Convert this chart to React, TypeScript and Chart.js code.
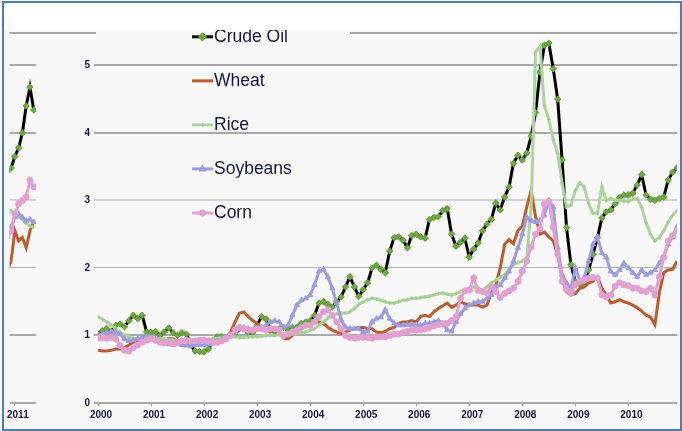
import { useEffect, useRef } from "react";
import { Chart, registerables } from "chart.js";

Chart.register(...registerables);

// ---- data (monthly, index 0 = Jan 2000) ----
const startYear = 2000;
const seriesNames = ["Crude Oil", "Wheat", "Rice", "Soybeans", "Corn"];

const crudeOil = [
  1.02, 1.07, 1.1, 1.06, 1.15, 1.17, 1.13, 1.22, 1.3, 1.25, 1.3, 1.05,
  1.05, 1.06, 1.0, 1.05, 1.11, 1.04, 1.0, 1.04, 1.02, 0.86, 0.77, 0.76,
  0.76, 0.8, 0.92, 0.98, 0.98, 0.96, 1.0, 1.02, 1.1, 1.1, 1.04, 1.04,
  1.15, 1.28, 1.24, 1.1, 1.05, 1.1, 1.12, 1.08, 1.12, 1.12, 1.18, 1.2,
  1.22, 1.3, 1.48, 1.5, 1.46, 1.42, 1.5, 1.57, 1.72, 1.87, 1.72, 1.58,
  1.68, 1.78, 2.0, 2.04, 1.98, 1.93, 2.25, 2.45, 2.46, 2.41, 2.3, 2.48,
  2.5, 2.46, 2.44, 2.72, 2.75, 2.76, 2.85, 2.88, 2.5, 2.32, 2.38, 2.44,
  2.16, 2.28, 2.37, 2.55, 2.65, 2.72, 2.96, 2.86, 3.05, 3.2, 3.55, 3.67,
  3.6, 3.7, 3.95, 4.3, 4.9, 5.3, 5.33, 4.95, 4.5, 3.6, 2.6, 2.05,
  1.8, 1.76, 1.75, 1.97, 2.2, 2.45, 2.74, 2.83, 2.86, 2.95, 3.04, 3.08,
  3.08, 3.11, 3.23, 3.38, 3.08, 3.02, 3.0, 3.03, 3.05, 3.3, 3.42, 3.48,
  3.65, 3.78, 4.0, 4.4, 4.68, 4.34,
];

const wheat = [
  0.78, 0.77, 0.77, 0.78, 0.8, 0.8, 0.82, 0.86, 0.9, 0.92, 0.95, 0.96,
  0.95, 0.94, 0.92, 0.93, 0.96, 0.95, 0.92, 0.9, 0.92, 0.92, 0.93, 0.92,
  0.92, 0.9, 0.9, 0.9, 0.92, 0.95, 1.05, 1.2, 1.33, 1.35, 1.28, 1.22,
  1.18, 1.1, 1.08, 1.05, 1.08, 1.05, 0.96, 0.95, 1.0, 1.08, 1.12, 1.15,
  1.18, 1.2, 1.2, 1.18, 1.12, 1.08, 1.05, 1.03, 1.05, 1.08, 1.1, 1.12,
  1.12, 1.1, 1.1, 1.05, 1.04, 1.06, 1.1, 1.12, 1.18, 1.2, 1.2, 1.22,
  1.2, 1.28, 1.3, 1.28, 1.35, 1.4, 1.44, 1.48, 1.42, 1.45, 1.5, 1.47,
  1.45, 1.45, 1.45, 1.42, 1.45, 1.63, 1.75, 2.0, 2.35, 2.42, 2.36, 2.55,
  2.62, 2.9, 3.15, 2.76, 2.5, 2.53, 2.46, 2.4, 2.2, 1.85, 1.65, 1.6,
  1.62, 1.7, 1.72, 1.78, 1.8, 1.87, 1.7, 1.6, 1.48, 1.5, 1.53, 1.5,
  1.48, 1.45, 1.41, 1.36, 1.3, 1.27, 1.16, 1.63, 1.93, 1.97, 1.98, 2.1,
  2.55, 2.4, 2.45, 2.3, 2.55, 2.7,
];

const rice = [
  1.28, 1.24, 1.2, 1.15, 1.1, 1.05, 1.0, 0.98, 0.96, 0.95, 0.96, 0.97,
  0.97, 0.96, 0.95, 0.95, 0.94, 0.93, 0.92, 0.92, 0.92, 0.92, 0.92, 0.93,
  0.93, 0.94, 0.95, 0.96, 0.97, 0.98, 0.98, 0.98, 0.97, 0.97, 0.98, 0.98,
  0.98, 0.99, 1.0, 1.0, 1.0, 1.01, 1.02, 1.02, 1.02, 1.03, 1.04, 1.05,
  1.08, 1.1, 1.15, 1.2, 1.26, 1.3, 1.32, 1.33, 1.33, 1.35, 1.4, 1.46,
  1.5, 1.53, 1.55, 1.54, 1.52, 1.5, 1.48, 1.48, 1.5, 1.52, 1.53, 1.55,
  1.55, 1.56, 1.57, 1.58, 1.6, 1.62, 1.63, 1.61, 1.6, 1.62, 1.65, 1.68,
  1.7, 1.72, 1.7, 1.67, 1.72, 1.78, 1.82, 1.86, 1.9, 1.98, 2.05, 2.08,
  2.1, 2.15, 2.9, 5.2, 5.28, 4.4, 4.2, 3.9, 3.7, 3.26, 2.9, 2.93,
  3.15, 3.26, 3.2, 2.95, 2.81, 2.81, 3.2, 3.0, 3.03, 3.0, 3.0, 2.99,
  2.98, 3.02, 3.03, 2.9, 2.67, 2.5, 2.4, 2.45, 2.55, 2.68, 2.78, 2.85,
  2.8, 2.76, 2.72, 2.66, 2.62, 2.6,
];

const soybeans = [
  1.0, 1.02, 1.04, 1.05, 1.05, 1.02, 0.95, 0.92, 0.93, 0.95, 0.97, 0.98,
  0.97, 0.95, 0.9, 0.88, 0.87, 0.86, 0.88, 0.86, 0.85, 0.85, 0.86, 0.86,
  0.86, 0.87, 0.88, 0.92, 0.95, 0.97, 1.0, 1.05, 1.1, 1.12, 1.1, 1.08,
  1.1, 1.12, 1.15, 1.2, 1.22, 1.2, 1.12, 1.15, 1.3, 1.45, 1.52, 1.55,
  1.6, 1.75, 1.95, 1.98, 1.87, 1.7, 1.48, 1.23, 1.12, 1.1, 1.1, 1.1,
  1.05, 1.06, 1.2, 1.25, 1.27, 1.38, 1.25, 1.18, 1.15, 1.15, 1.16, 1.16,
  1.16, 1.15, 1.18, 1.18, 1.2, 1.22, 1.18, 1.08, 1.06, 1.2, 1.32, 1.4,
  1.45, 1.48, 1.5, 1.5, 1.55, 1.6, 1.72, 1.75, 1.85, 1.95, 2.1, 2.3,
  2.5, 2.75, 2.7, 2.68, 2.7, 2.78, 3.0, 2.9, 2.3, 1.9, 1.78, 1.7,
  2.0, 1.82, 1.85, 2.1, 2.35, 2.46, 2.22, 2.16, 1.95, 1.9, 1.97, 2.07,
  2.0, 1.93, 1.87, 1.97, 1.9, 1.93, 1.97, 2.07, 2.16, 2.35, 2.46, 2.61,
  2.75, 2.8, 2.75, 2.7, 2.72, 2.68,
];

const corn = [
  0.96, 0.97, 0.96, 0.97, 0.95, 0.85, 0.78, 0.77, 0.82, 0.86, 0.9, 0.93,
  0.95, 0.93, 0.9, 0.89, 0.9, 0.88, 0.89, 0.92, 0.93, 0.92, 0.92, 0.93,
  0.93, 0.92, 0.9, 0.9, 0.92, 0.95, 1.0, 1.08, 1.12, 1.1, 1.08, 1.08,
  1.1, 1.1, 1.08, 1.1, 1.1, 1.08, 1.0, 1.02, 1.05, 1.08, 1.12, 1.15,
  1.15, 1.2, 1.28, 1.35, 1.38, 1.3, 1.2, 1.1, 1.0, 0.97, 0.96, 0.97,
  0.97, 0.97, 0.96, 0.98, 0.98, 0.98, 1.0, 1.02, 1.02, 1.04, 1.06, 1.08,
  1.08, 1.08, 1.1, 1.12, 1.14, 1.16, 1.17, 1.18, 1.22, 1.28, 1.55, 1.66,
  1.67, 1.85, 1.67, 1.65, 1.63, 1.72, 1.65, 1.56, 1.62, 1.66, 1.7, 1.8,
  1.95, 2.1, 2.31, 2.5, 2.58, 2.95, 2.98, 2.6, 2.2, 1.8, 1.68, 1.63,
  1.75, 1.8, 1.82, 1.85, 1.86, 1.85, 1.6, 1.57, 1.6, 1.73, 1.78, 1.75,
  1.74, 1.7, 1.7, 1.66, 1.65, 1.7, 1.6, 1.87, 2.16, 2.4, 2.48, 2.55,
  2.8, 2.95, 3.0, 3.05, 3.3, 3.2,
];

const seriesValues = [crudeOil, wheat, rice, soybeans, corn];

// ---- styles ----
const seriesStyles = [
  { line: "#000000", width: 3, point: "rectRot", radius: 3.2, fill: "#6eaa3c", edge: "#5d9a2e" },
  { line: "#c05a2a", width: 3, point: "circle", radius: 0, fill: "#c05a2a", edge: "#c05a2a" },
  { line: "#abd69a", width: 3, point: "cross", radius: 2, fill: "#abd69a", edge: "#9fcf8c" },
  { line: "#9c9ce2", width: 3, point: "triangle", radius: 3, fill: "#9c9ce2", edge: "#9c9ce2" },
  { line: "#e39fd0", width: 3, point: "circle", radius: 3, fill: "#e39fd0", edge: "#e39fd0" },
];

const textColor = "#15153a";
const tickFont = { family: "'Liberation Sans', Arial, sans-serif", size: 10, weight: "bold" as const };

function gridColor(c: any) {
  const v = c.tick ? c.tick.value : 0;
  if (v === 3) return "#d2d2d2";
  if (v === 2) return "#b4b4b4";
  return "#a8a8a8";
}
function gridWidth(c: any) {
  const v = c.tick ? c.tick.value : 0;
  return v === 2 ? 1 : 2;
}

function buildDatasets() {
  return seriesNames.map((name, i) => {
    const s = seriesStyles[i];
    return {
      label: name,
      data: seriesValues[i].map((v, m) => ({ x: m, y: v })),
      borderColor: s.line,
      borderWidth: s.width,
      pointStyle: s.point as any,
      pointRadius: s.radius,
      pointBackgroundColor: s.fill,
      pointBorderColor: s.edge,
      pointBorderWidth: 1,
      tension: 0,
      order: seriesNames.length - 1 - i,
    };
  });
}

function drawMarker(ctx: CanvasRenderingContext2D, kind: string, x: number, y: number, r: number, fill: string, edge: string) {
  if (r <= 0) return;
  ctx.save();
  ctx.fillStyle = fill;
  ctx.strokeStyle = edge;
  ctx.lineWidth = 1;
  ctx.beginPath();
  if (kind === "rectRot") {
    ctx.moveTo(x, y - r * 1.3);
    ctx.lineTo(x + r * 1.3, y);
    ctx.lineTo(x, y + r * 1.3);
    ctx.lineTo(x - r * 1.3, y);
    ctx.closePath();
    ctx.fill();
    ctx.stroke();
  } else if (kind === "triangle") {
    ctx.moveTo(x, y - r * 1.2);
    ctx.lineTo(x + r * 1.1, y + r * 0.7);
    ctx.lineTo(x - r * 1.1, y + r * 0.7);
    ctx.closePath();
    ctx.fill();
    ctx.stroke();
  } else if (kind === "cross") {
    ctx.moveTo(x - r, y);
    ctx.lineTo(x + r, y);
    ctx.moveTo(x, y - r);
    ctx.lineTo(x, y + r);
    ctx.stroke();
  } else {
    ctx.arc(x, y, r, 0, Math.PI * 2);
    ctx.fill();
    ctx.stroke();
  }
  ctx.restore();
}

const mainOverlay = {
  id: "mainOverlay",
  afterDatasetsDraw(chart: any) {
    const ctx: CanvasRenderingContext2D = chart.ctx;
    const area = chart.chartArea;
    ctx.save();
    // top border line (partly hidden behind legend area)
    ctx.strokeStyle = "#a8a8a8";
    ctx.lineWidth = 2;
    ctx.beginPath();
    ctx.moveTo(350, area.top);
    ctx.lineTo(area.right, area.top);
    ctx.stroke();
    // legend
    const lx0 = 192;
    const lx1 = 213;
    const top = 36.8;
    const gap = 44.05;
    ctx.font = "17.5px 'Liberation Sans', Arial, sans-serif";
    ctx.textBaseline = "middle";
    ctx.textAlign = "left";
    seriesNames.forEach((name, i) => {
      const s = seriesStyles[i];
      const y = top + i * gap;
      ctx.strokeStyle = s.line;
      ctx.lineWidth = 3;
      ctx.beginPath();
      ctx.moveTo(lx0, y);
      ctx.lineTo(lx1, y);
      ctx.stroke();
      drawMarker(ctx, s.point, (lx0 + lx1) / 2, y, s.radius, s.fill, s.edge);
      ctx.fillStyle = textColor;
      ctx.fillText(name, lx1 + 1, y);
    });
    ctx.restore();
  },
};

const stripOverlay = {
  id: "stripOverlay",
  afterDatasetsDraw(chart: any) {
    const ctx: CanvasRenderingContext2D = chart.ctx;
    const area = chart.chartArea;
    ctx.save();
    ctx.strokeStyle = "#a8a8a8";
    ctx.lineWidth = 2;
    ctx.beginPath();
    ctx.moveTo(area.left, area.top);
    ctx.lineTo(96, area.top);
    ctx.stroke();
    ctx.restore();
  },
};

function baseOptions(xMin: number, xMax: number, yWidth: number, padRight: number, showYTicks: boolean): any {
  return {
    responsive: false,
    animation: false,
    devicePixelRatio: 1,
    events: [],
    layout: { padding: { top: 33, right: padRight, left: 0, bottom: 0 } },
    plugins: { legend: { display: false }, tooltip: { enabled: false } },
    scales: {
      x: {
        type: "linear",
        min: xMin,
        max: xMax,
        border: { display: false },
        grid: { drawOnChartArea: false, drawTicks: true, tickLength: 3, color: "#a0a0a0" },
        ticks: {
          stepSize: 12,
          includeBounds: false,
          autoSkip: false,
          maxRotation: 0,
          labelOffset: 3,
          padding: 3,
          color: textColor,
          font: tickFont,
          callback: (v: number) => String(startYear + v / 12),
        },
        afterFit: (s: any) => {
          s.height = 28;
        },
      },
      y: {
        min: 0,
        max: 5.48,
        border: { display: false },
        grid: { color: gridColor, lineWidth: gridWidth, drawTicks: showYTicks, tickLength: 4 },
        ticks: {
          display: showYTicks,
          stepSize: 1,
          includeBounds: false,
          padding: 4,
          color: textColor,
          font: tickFont,
        },
        afterFit: (s: any) => {
          s.width = yWidth;
        },
      },
    },
  };
}

export default function App() {
  const mainRef = useRef<HTMLCanvasElement>(null);
  const stripRef = useRef<HTMLCanvasElement>(null);

  useEffect(() => {
    const main = new Chart(mainRef.current as HTMLCanvasElement, {
      type: "line",
      data: { datasets: buildDatasets() as any },
      options: baseOptions(0, 131, 98, 1, true),
      plugins: [mainOverlay],
    });
    const strip = new Chart(stripRef.current as HTMLCanvasElement, {
      type: "line",
      data: { datasets: buildDatasets() as any },
      options: baseOptions(130.6, 137.6, 5, 64, false),
      plugins: [stripOverlay],
    });
    return () => {
      main.destroy();
      strip.destroy();
    };
  }, []);

  return (
    <div
      style={{
        position: "absolute",
        left: 0,
        top: 0,
        width: 682,
        height: 431,
        background: "#f8f8f8",
        overflow: "hidden",
      }}
    >
      <canvas ref={mainRef} width={682} height={431} style={{ position: "absolute", left: 0, top: 0 }} />
      <canvas ref={stripRef} width={100} height={431} style={{ position: "absolute", left: 0, top: 0 }} />
      <div style={{ position: "absolute", left: 0, top: 0, width: 682, height: 30, background: "#ffffff" }} />
      <div
        style={{
          position: "absolute",
          left: 2,
          top: 1,
          width: 680,
          height: 430,
          border: "2px solid #4a7ebb",
          boxSizing: "border-box",
        }}
      />
    </div>
  );
}
